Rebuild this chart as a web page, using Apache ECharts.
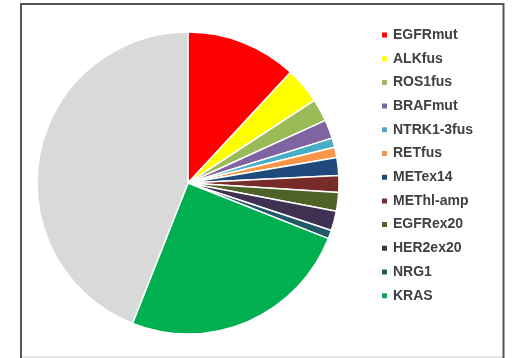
<!DOCTYPE html>
<html>
<head>
<meta charset="utf-8">
<script src="https://cdn.jsdelivr.net/npm/echarts@6/dist/echarts.min.js"></script>
<style>
  html, body { margin: 0; padding: 0; background: #ffffff; }
  #chart { width: 513px; height: 358px; }
</style>
</head>
<body>
<div id="chart"></div>
<script>
// Share of driver alterations (percent), clockwise from 12 o'clock
const categories = ['EGFRmut', 'ALKfus', 'ROS1fus', 'BRAFmut', 'NTRK1-3fus', 'RETfus',
                    'METex14', 'METhl-amp', 'EGFRex20', 'HER2ex20', 'NRG1', 'KRAS'];
const shares = [11.9, 3.9, 2.4, 2.0, 1.0, 1.1, 1.9, 1.8, 2.0, 2.1, 0.9, 25.0];
const unknownName = 'Unknown';
const unknownShare = 44.0;

const colors = ['#FF0000', '#FFFF00', '#9BBB59', '#8064A2', '#4BACC6', '#F79646',
                '#1F497D', '#772C2A', '#4F6228', '#3F3151', '#215968', '#00B050'];
const unknownColor = '#D9D9D9';

const pieData = categories.map((name, i) => ({
  name: name, value: shares[i], itemStyle: { color: colors[i] }
}));
pieData.push({ name: unknownName, value: unknownShare, itemStyle: { color: unknownColor } });

const chart = echarts.init(document.getElementById('chart'), null, { renderer: 'canvas' });
chart.setOption({
  animation: false,
  backgroundColor: '#ffffff',
  graphic: [
    {
      type: 'rect', z: 10, silent: true,
      shape: { x: 21, y: 4, width: 482.5, height: 370 },
      style: { fill: 'none', stroke: '#555555', lineWidth: 2 }
    },
    {
      type: 'line', z: 10, silent: true,
      shape: { x1: 22, y1: 357, x2: 502, y2: 357 },
      style: { stroke: '#cccccc', lineWidth: 1 }
    }
  ],
  legend: {
    orient: 'vertical',
    left: 375,
    top: 22,
    data: categories,
    icon: 'rect',
    itemWidth: 7,
    itemHeight: 7,
    itemGap: 7.7,
    selectedMode: false,
    textStyle: {
      fontFamily: 'Liberation Sans',
      fontWeight: 'bold',
      fontSize: 14,
      lineHeight: 16,
      color: '#404040'
    }
  },
  series: [{
    type: 'pie',
    center: [188, 183],
    radius: [0, 151],
    startAngle: 90,
    clockwise: true,
    label: { show: false },
    labelLine: { show: false },
    itemStyle: { borderColor: '#ffffff', borderWidth: 1.5 },
    emphasis: { disabled: true },
    data: pieData
  }]
});
</script>
</body>
</html>
